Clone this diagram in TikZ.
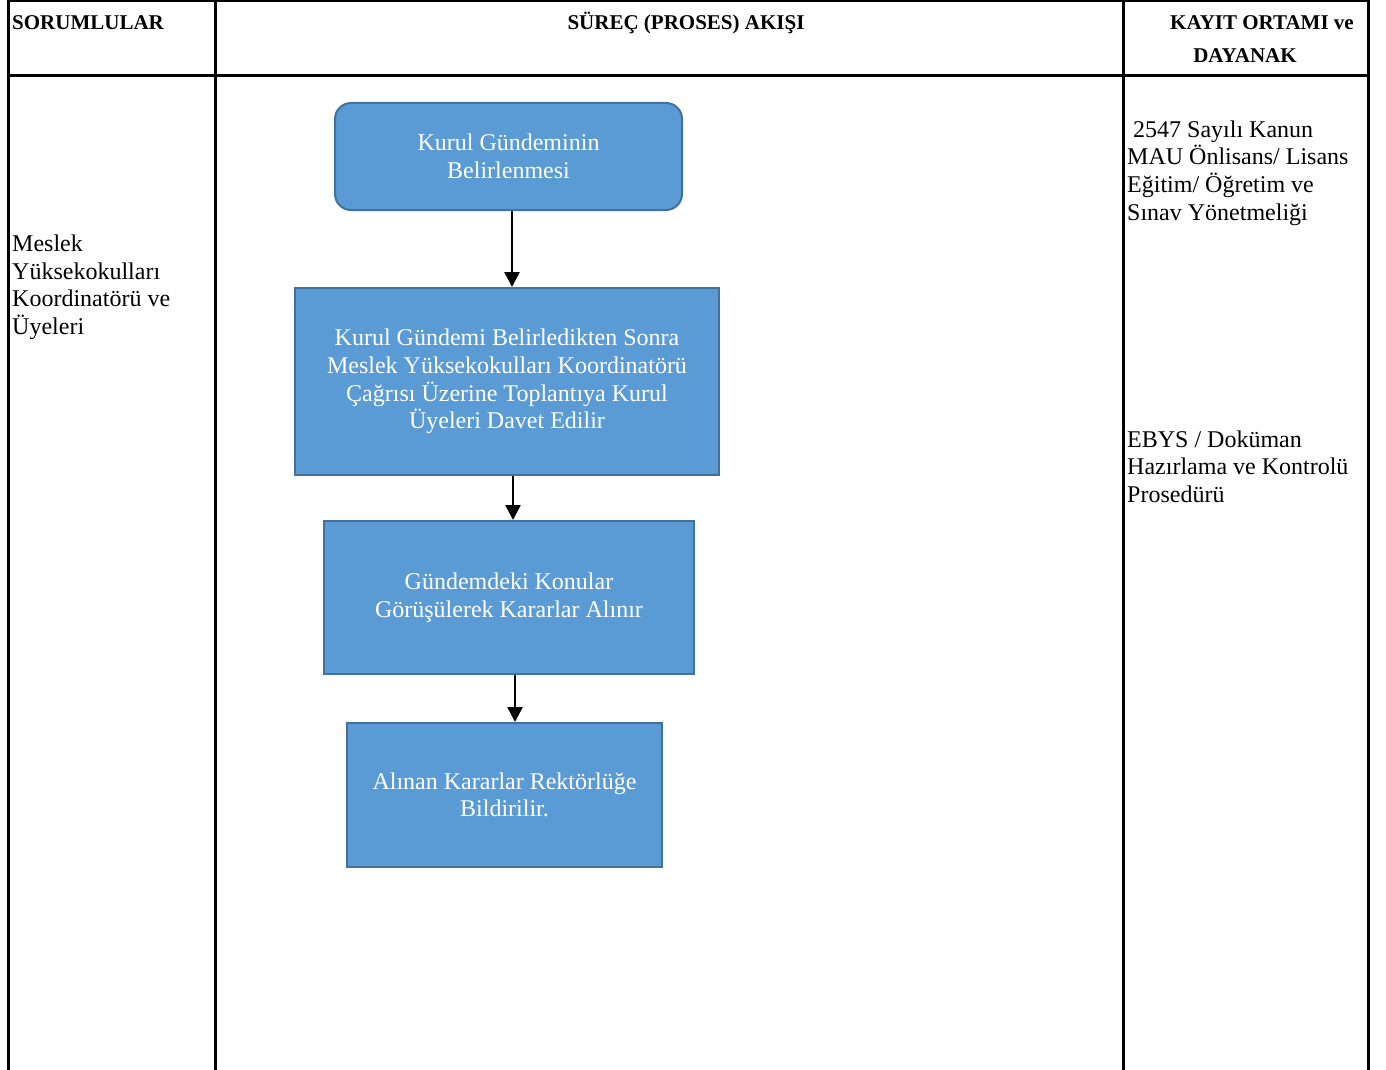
\documentclass[tikz,border=0pt]{standalone}
\usepackage{fontspec}
\setmainfont{Liberation Serif}
\usetikzlibrary{arrows.meta}
\definecolor{boxfill}{HTML}{5B9BD5}
\definecolor{boxline}{HTML}{41719C}
\tikzset{
  grid/.style={line width=3pt, black},
  body/.style={font=\fontsize{24}{27.6}\selectfont, inner sep=0pt, align=left, anchor=base west},
  head/.style={font=\bfseries\fontsize{21}{25}\selectfont, inner sep=0pt, anchor=base},
  flowbox/.style={draw=boxline, line width=2pt, fill=boxfill, text=white,
    font=\fontsize{24}{27.6}\selectfont, align=center, inner sep=0pt},
  flowarrow/.style={line width=2.6pt, -{Triangle[length=15pt,width=15pt]}}
}
\begin{document}
\begin{tikzpicture}[x=1pt,y=-1pt]
\useasboundingbox (0,0) rectangle (1386,1070);
% table
\draw[grid] (8,1) -- (1368,1);
\draw[grid] (8,76) -- (1368,76);
\draw[grid] (8,0) -- (8,1070);
\draw[grid] (215,0) -- (215,1070);
\draw[grid] (1123,0) -- (1123,1070);
\draw[grid] (1368,0) -- (1368,1070);
% headers
\node[head, anchor=base west] (h1) at (12,30) {SORUMLULAR};
\node[head] (h2) at (686,30) {SÜREÇ (PROSES) AKIŞI};
\node[head] (h3a) at (1262,30) {KAYIT ORTAMI ve};
\node[head] (h3b) at (1245,63) {DAYANAK};
% left column (anchor = baseline of last line)
\node[body] (resp) at (12,334.5) {Meslek\\Yüksekokulları\\Koordinatörü ve\\Üyeleri};
% right column
\node[body] (ref1) at (1127,220) {\hspace*{6pt}2547 Sayılı Kanun\\MAU Önlisans/ Lisans\\Eğitim/ Öğretim ve\\Sınav Yönetmeliği};
\node[body] (ref2) at (1127,502.5) {EBYS / Doküman\\Hazırlama ve Kontrolü\\Prosedürü};
% flow boxes
\node[flowbox, rounded corners=16pt, minimum width=347pt, minimum height=107pt] (b1) at (508.5,156.5)
  {Kurul Gündeminin\\Belirlenmesi};
\node[flowbox, minimum width=424pt, minimum height=187pt] (b2) at (507,381.5)
  {Kurul Gündemi Belirledikten Sonra\\Meslek Yüksekokulları Koordinatörü\\Çağrısı Üzerine Toplantıya Kurul\\Üyeleri Davet Edilir};
\node[flowbox, minimum width=370pt, minimum height=153pt] (b3) at (509,597.5)
  {Gündemdeki Konular\\Görüşülerek Kararlar Alınır};
\node[flowbox, minimum width=315pt, minimum height=144pt] (b4) at (504.5,795)
  {Alınan Kararlar Rektörlüğe\\Bildirilir.};
% arrows
\draw[flowarrow] ([xshift=3.5pt]b1.south) -- ([xshift=3.5pt]b1.south |- b2.north);
\draw[flowarrow] ([xshift=6pt]b2.south) -- ([xshift=6pt]b2.south |- b3.north);
\draw[flowarrow] ([xshift=6pt]b3.south) -- ([xshift=6pt]b3.south |- b4.north);
\end{tikzpicture}
\end{document}
